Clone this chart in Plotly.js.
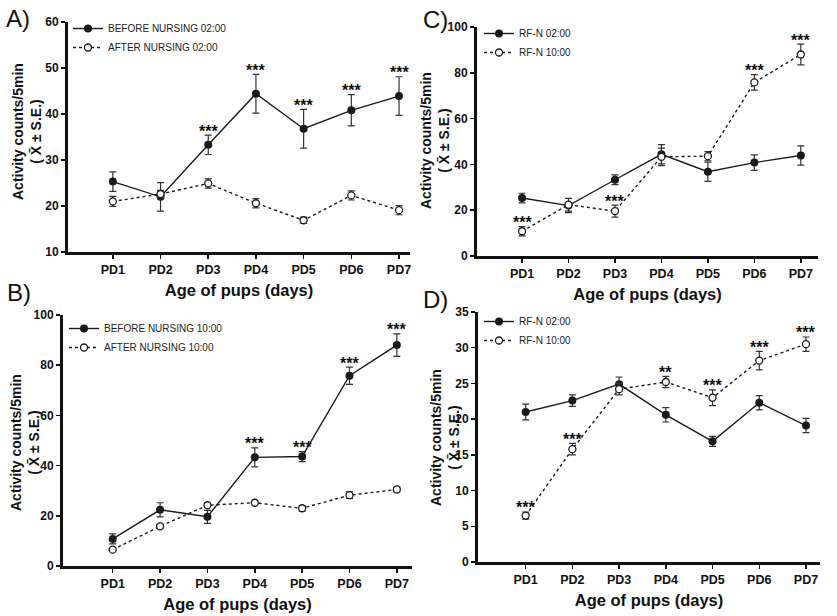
<!DOCTYPE html>
<html>
<head>
<meta charset="utf-8">
<script src="https://cdn.plot.ly/plotly-3.0.1.min.js"></script>
<style>html,body{margin:0;padding:0;background:#fff;}#chart{width:837px;height:616px;}</style>
</head>
<body>
<div id="chart"></div>
<script>
// ---- data ----
const categories = ['PD1','PD2','PD3','PD4','PD5','PD6','PD7'];

const before0200   = [25.3, 22.0, 33.3, 44.4, 36.8, 40.8, 43.9];
const before0200SE = [2.1, 3.1, 2.1, 4.2, 4.2, 3.4, 4.2];
const after0200    = [21.0, 22.6, 24.9, 20.6, 16.9, 22.3, 19.1];
const after0200SE  = [1.1, 0.8, 1.0, 1.0, 0.7, 1.0, 1.0];
const before1000   = [10.8, 22.4, 19.6, 43.3, 43.6, 75.8, 88.0];
const before1000SE = [2.0, 2.8, 2.6, 3.8, 2.0, 3.4, 4.5];
const after1000    = [6.5, 15.8, 24.2, 25.2, 23.0, 28.2, 30.5];
const after1000SE  = [0.5, 0.8, 0.8, 0.8, 1.1, 1.3, 1.0];

const sigA = ['', '', '***', '***', '***', '***', '***'];
const sigB = ['', '', '', '***', '***', '***', '***'];
const sigC = ['***', '', '***', '', '', '***', '***'];
const sigD = ['***', '***', '', '**', '***', '***', '***'];

const legendNamesA = ['BEFORE NURSING 02:00', 'AFTER NURSING 02:00'];
const legendNamesB = ['BEFORE NURSING 10:00', 'AFTER NURSING 10:00'];
const legendNamesCD = ['RF-N 02:00', 'RF-N 10:00'];

const yTitle = 'Activity counts/5min<br>( X\u0304 \u00b1 S.E.)';
const xTitle = 'Age of pups (days)';

// ---- styling ----
const FONT = 'Liberation Sans, Arial, sans-serif';
const INK = '#1a1a1a';
const W = 837, H = 616;

function solidTrace(y, se, name, xa, ya, leg) {
  return {
    type: 'scatter', mode: 'lines+markers', x: categories, y: y, name: name,
    xaxis: xa, yaxis: ya, legend: leg,
    line: {color: INK, width: 1.4},
    marker: {color: INK, size: 8, symbol: 'circle'},
    error_y: {type: 'data', array: se, visible: true, color: '#333', thickness: 1.2, width: 3.5}
  };
}
function dashTrace(y, se, name, xa, ya, leg) {
  return {
    type: 'scatter', mode: 'lines+markers', x: categories, y: y, name: name,
    xaxis: xa, yaxis: ya, legend: leg,
    line: {color: INK, width: 1.4, dash: '3px,3px'},
    marker: {color: '#fff', size: 7, symbol: 'circle', line: {color: INK, width: 1.3}},
    error_y: {type: 'data', array: se, visible: true, color: '#333', thickness: 1.2, width: 3.5}
  };
}

const data = [
  solidTrace(before0200, before0200SE, legendNamesA[0], 'x', 'y', 'legend'),
  dashTrace(after0200, after0200SE, legendNamesA[1], 'x', 'y', 'legend'),
  solidTrace(before1000, before1000SE, legendNamesB[0], 'x3', 'y3', 'legend3'),
  dashTrace(after1000, after1000SE, legendNamesB[1], 'x3', 'y3', 'legend3'),
  solidTrace(before0200, before0200SE, legendNamesCD[0], 'x2', 'y2', 'legend2'),
  dashTrace(before1000, before1000SE, legendNamesCD[1], 'x2', 'y2', 'legend2'),
  solidTrace(after0200, after0200SE, legendNamesCD[0], 'x4', 'y4', 'legend4'),
  dashTrace(after1000, after1000SE, legendNamesCD[1], 'x4', 'y4', 'legend4')
];

function px(v) { return v / W; }
function py(v) { return 1 - v / H; }

function xaxis(l, r, rng, anchor) {
  return {
    domain: [px(l), px(r)], anchor: anchor, type: 'category', range: rng,
    showline: true, linewidth: 3, linecolor: '#111', ticks: 'outside', ticklen: 4, tickwidth: 1.5,
    tickcolor: '#111', showgrid: false, zeroline: false,
    tickfont: {family: FONT, size: 12.5, color: '#111', weight: 'bold'},
    title: {text: xTitle, font: {family: FONT, size: 16.5, color: '#111', weight: 'bold'}, standoff: 9},
    fixedrange: true
  };
}
function yaxis(top, bottom, rng, dtick, anchor) {
  return {
    domain: [py(bottom), py(top)], anchor: anchor, range: rng, dtick: dtick,
    showline: true, linewidth: 3, linecolor: '#111', ticks: 'outside', ticklen: 4, tickwidth: 1.5,
    tickcolor: '#111', showgrid: false, zeroline: false,
    tickfont: {family: FONT, size: 12, color: '#111', weight: 'bold'},
    fixedrange: true
  };
}
function legendAt(l, t) {
  return {x: px(l), y: py(t), xanchor: 'left', yanchor: 'top', bgcolor: 'rgba(0,0,0,0)',
    font: {family: FONT, size: 10, color: '#222'}, itemwidth: 30, tracegroupgap: 0};
}

function stars(sig, vals, se, xa, ya) {
  const out = [];
  sig.forEach((s, i) => {
    if (s) out.push({x: categories[i], y: vals[i] + se[i], xref: xa, yref: ya, text: s, showarrow: false,
      yanchor: 'middle', yshift: 4, font: {family: FONT, size: 16, color: '#111', weight: 'bold'}});
  });
  return out;
}
function letter(t, x, y) {
  return {text: t, x: px(x), y: py(y), xref: 'paper', yref: 'paper', xanchor: 'left', yanchor: 'middle',
    showarrow: false, font: {family: FONT, size: 24, color: '#111'}};
}
function ytitle(cx, cy) {
  return {text: yTitle, x: px(cx), y: py(cy), xref: 'paper', yref: 'paper', xanchor: 'center', yanchor: 'middle',
    textangle: -90, showarrow: false, font: {family: FONT, size: 14, color: '#111', weight: 'bold'}};
}

const layout = {
  width: W, height: H, margin: {l: 0, r: 0, t: 0, b: 0},
  paper_bgcolor: '#fff', plot_bgcolor: '#fff', showlegend: true,
  xaxis: xaxis(68, 410, [-0.94, 6.23], 'y'),
  yaxis: yaxis(22, 252, [10, 60], 10, 'x'),
  xaxis2: xaxis(477, 818, [-0.97, 6.37], 'y2'),
  yaxis2: yaxis(27, 256, [0, 100], 20, 'x2'),
  xaxis3: xaxis(63, 412, [-1.05, 6.32], 'y3'),
  yaxis3: yaxis(315, 566, [0, 100], 20, 'x3'),
  xaxis4: xaxis(478, 820, [-1.02, 6.3], 'y4'),
  yaxis4: yaxis(312, 562, [0, 35], 5, 'x4'),
  legend: legendAt(68, 14),
  legend2: legendAt(479, 19),
  legend3: legendAt(64, 314),
  legend4: legendAt(479, 307),
  annotations: [].concat(
    stars(sigA, before0200, before0200SE, 'x', 'y'),
    stars(sigC, before1000, before1000SE, 'x2', 'y2'),
    stars(sigB, before1000, before1000SE, 'x3', 'y3'),
    stars(sigD, after1000, after1000SE, 'x4', 'y4'),
    [ytitle(27, 132), ytitle(25, 443), ytitle(435, 141), ytitle(445, 437)],
    [letter('A)', 4, 18), letter('C)', 421, 19), letter('B)', 5, 292), letter('D)', 421, 299)]
  )
};

Plotly.newPlot('chart', data, layout, {staticPlot: true, displayModeBar: false});
</script>
</body>
</html>
